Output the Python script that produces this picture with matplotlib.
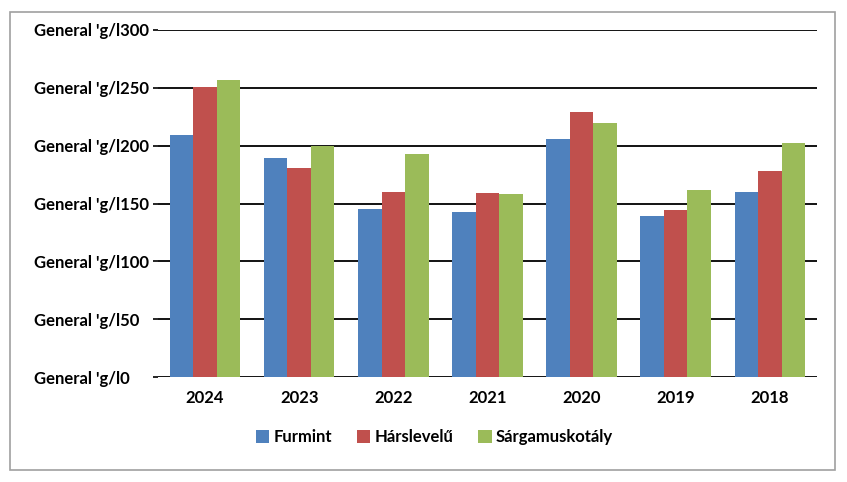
import matplotlib.pyplot as plt
import matplotlib.patches as mpatches
import numpy as np

plt.rcParams['font.family'] = ['Lato', 'DejaVu Sans']

years = ['2024', '2023', '2022', '2021', '2020', '2019', '2018']
series = ['Furmint', 'Hárslevelű', 'Sárgamuskotály']
furmint = [209, 189, 145, 143, 206, 139, 160]
harslevelu = [251, 181, 160, 159, 229, 144, 178]
sargamuskotaly = [257, 200, 193, 158, 220, 162, 202]
yticks = [0, 50, 100, 150, 200, 250, 300]
ytick_labels = ["General 'g/l" + str(v) for v in yticks]
colors = ['#4F81BD', '#C0504D', '#9BBB59']

fig = plt.figure(figsize=(8.47, 4.82), dpi=100)
ax = fig.add_axes([0.1865, 0.2178, 0.778, 0.72])

# frame around the whole chart
fig.patches.append(mpatches.Rectangle((0.012, 0.025), 0.974, 0.95, transform=fig.transFigure,
                                      fill=False, edgecolor='#a0a0a0', linewidth=1.2))

x = np.arange(len(years))
w = 0.25
for i, vals in enumerate([furmint, harslevelu, sargamuskotaly]):
  ax.bar(x + (i - 1) * w, vals, width=w, color=colors[i], label=series[i], zorder=2)

ax.set_xlim(-0.5, len(years) - 0.5)
ax.set_ylim(0, 300)
ax.set_yticks(yticks)
ax.set_yticklabels(ytick_labels, fontsize=12, fontweight='bold')
for t in ax.get_yticklabels():
  t.set_horizontalalignment('left')
ax.set_xticks(x)
ax.set_xticklabels(years, fontsize=12, fontweight='bold')
ax.yaxis.grid(True, color='black', linewidth=1.3, zorder=1)
ax.set_axisbelow(True)
for s in ax.spines.values():
  s.set_visible(False)
ax.tick_params(axis='y', length=3.6, width=1.2, pad=85.7)
ax.tick_params(axis='x', length=0, pad=9)

handles, labels = ax.get_legend_handles_labels()
fig.legend(handles, labels, loc='center', bbox_to_anchor=(0.513, 0.093), ncol=3, frameon=False,
           prop={'weight': 'bold', 'size': 12}, handlelength=0.8, handleheight=0.8,
           handletextpad=0.25, columnspacing=1.5)

plt.savefig('out.png', dpi=100)
